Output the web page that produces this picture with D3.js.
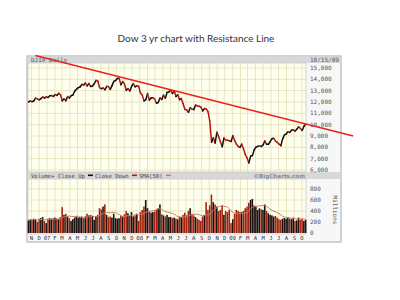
<!DOCTYPE html>
<html>
<head>
<meta charset="utf-8">
<script src="https://cdn.jsdelivr.net/npm/d3@7"></script>
<style>
  body { margin: 0; background: #fff; }
  svg text { font-family: "DejaVu Sans Mono", monospace; }
</style>
</head>
<body>
<div id="chart"></div>
<script>
// Weekly DJIA closes, from the week of 10/20/06 to 10/15/09
const closes = [
  // 2006
  12002, 12090, 12031, 12108, 12342, 12280, 12194, 12307, 12445, 12343, 12463,
  // 2007
  12398, 12556, 12565, 12487, 12653, 12580, 12768, 12647,
  12114, 12276, 12110, 12481, 12354, 12560, 12612, 12961, 13120,
  13264, 13326, 13556, 13507, 13668, 13424, 13639, 13360, 13408,
  13611, 13907, 13851, 13265, 13182, 13239, 13079, 13379, 13358,
  13113, 13442, 13821, 13896, 14066, 14093, 13522, 13807,
  13595, 13043, 13177, 12981, 13372, 13626, 13339, 13451, 13366,
  // 2008
  12800, 12606, 12099, 12207, 12743, 12183, 12348, 12381, 12266,
  11894, 11951, 12361, 12216, 12609, 12325, 12849, 12891,
  13058, 12745, 12986, 12480, 12638, 12209, 12307, 11843, 11346,
  11288, 11100, 11496, 11370, 11326, 11734, 11659, 11628, 11543,
  11220, 11421, 11388, 11143, 10325, 8451, 8852, 8378, 9325,
  8943, 8497, 8046, 8829, 8635, 8629, 8579, 8515,
  // 2009
  9034, 8599, 8281, 8077, 8001, 8280, 7850, 7366, 7063,
  6627, 7224, 7279, 7776, 8018, 8083, 8131, 8076,
  8212, 8575, 8268, 8277, 8500, 8764, 8799, 8539, 8438,
  8280, 8146, 8743, 9093, 9171, 9370, 9321, 9505, 9544,
  9441, 9605, 9820, 9665, 9487, 9865, 10062
];

// Average daily volume per week, millions
const volumes = [
  230, 250, 240, 260, 250, 200, 260, 270, 290, 220, 180,
  260, 270, 260, 270, 280, 260, 250, 290,
  470, 330, 350, 300, 270, 220, 250, 280, 300,
  280, 290, 300, 270, 300, 350, 320, 330, 310,
  240, 300, 330, 450, 430, 480, 520, 330, 290,
  300, 280, 350, 270, 260, 270, 320, 300,
  340, 400, 360, 320, 380, 300, 320, 350, 220,
  380, 420, 480, 600, 450, 400, 370, 380, 390,
  420, 450, 520, 340, 320, 300, 330, 290,
  290, 270, 280, 260, 250, 300, 290, 330, 370,
  320, 400, 450, 350, 320, 290, 260, 240, 220,
  300, 330, 560, 420, 500, 700, 560, 520, 480,
  400, 420, 500, 330, 400, 380, 420, 180,
  250, 350, 420, 400, 380, 380, 400, 450, 480,
  550, 600, 620, 500, 480, 420, 450, 430,
  420, 520, 400, 360, 330, 320, 300, 310, 280,
  250, 240, 260, 270, 260, 290, 260, 250, 280,
  220, 230, 280, 240, 260, 220, 240
];

const priceTicks  = [6000, 7000, 8000, 9000, 10000, 11000, 12000, 13000, 14000, 15000];
const volumeTicks = [0, 200, 400, 600, 800];

// Resistance line: two hand-drawn anchor points (date, price)
const resistance = [
  { date: new Date(2006, 10, 16), value: 16100 },
  { date: new Date(2010, 3, 21),  value: 9000 }
];

const firstWeek = new Date(2006, 9, 20);
const data = closes.map((c, i) => ({
  date: d3.timeDay.offset(firstWeek, i * 7),
  close: c,
  volume: volumes[i],
  up: i === 0 ? true : c >= closes[i - 1]
}));

// 50-day SMA ~ 10-week average
data.forEach((d, i) => {
  const win = data.slice(Math.max(0, i - 9), i + 1);
  d.sma = d3.mean(win, w => w.volume);
});

const W = 400, H = 300;
const frame = { left: 27, right: 341, top: 56, bottom: 242 };
const plot  = { left: 28, right: 306 };
const pricePane  = { top: 63, bottom: 172 };
const volumePane = { top: 179, bottom: 234 };

const svg = d3.select("#chart").append("svg")
  .attr("width", W).attr("height", H);

// title
svg.append("text")
  .attr("x", 196).attr("y", 42)
  .attr("text-anchor", "middle")
  .style("font-family", "Lato, 'Open Sans', sans-serif")
  .style("font-size", "10px")
  .attr("fill", "#333")
  .text("Dow 3 yr chart with Resistance Line");

// outer frame
svg.append("rect")
  .attr("x", frame.left).attr("y", frame.top)
  .attr("width", frame.right - frame.left)
  .attr("height", frame.bottom - frame.top)
  .attr("fill", "#f7f7f7").attr("stroke", "#a8a8a8").attr("stroke-width", 1);

// header bars
svg.append("rect")
  .attr("x", frame.left + 0.5).attr("y", frame.top + 0.5)
  .attr("width", frame.right - frame.left - 1).attr("height", 6.5)
  .attr("fill", "#d8d8d8");
svg.append("rect")
  .attr("x", frame.left + 0.5).attr("y", pricePane.bottom)
  .attr("width", frame.right - frame.left - 1).attr("height", 7)
  .attr("fill", "#d8d8d8");

const x = d3.scaleTime()
  .domain([new Date(2006, 9, 18), new Date(2009, 9, 17)])
  .range([plot.left, plot.right]);

const y = d3.scaleLinear().domain([6000, 15000]).range([170, 68]);
const yv = d3.scaleLinear().domain([0, 800]).range([233, 189]);

const months = d3.timeMonth.range(new Date(2006, 10, 1), new Date(2009, 10, 1));

// pane backgrounds
[pricePane, volumePane].forEach(p => {
  svg.append("rect")
    .attr("x", plot.left).attr("y", p.top)
    .attr("width", plot.right - plot.left).attr("height", p.bottom - p.top)
    .attr("fill", "#fffff0").attr("stroke", "#b8b8b8").attr("stroke-width", 0.6);
});

// grids
const grid = svg.append("g").attr("stroke", "#e2dfb4").attr("stroke-width", 0.8);
[pricePane, volumePane].forEach(p => {
  grid.selectAll(null).data(months).join("line")
    .attr("x1", d => x(d)).attr("x2", d => x(d))
    .attr("y1", p.top).attr("y2", p.bottom);
});
grid.selectAll(null).data(priceTicks).join("line")
  .attr("x1", plot.left).attr("x2", plot.right)
  .attr("y1", d => y(d)).attr("y2", d => y(d));
grid.selectAll(null).data(volumeTicks.slice(1)).join("line")
  .attr("x1", plot.left).attr("x2", plot.right)
  .attr("y1", d => yv(d)).attr("y2", d => yv(d));

// price trace
svg.append("g").selectAll("line")
  .data(data.slice(1))
  .join("line")
  .attr("x1", (d, i) => x(data[i].date))
  .attr("y1", (d, i) => y(data[i].close))
  .attr("x2", d => x(d.date))
  .attr("y2", d => y(d.close))
  .attr("stroke", d => d.up ? "#111" : "#b01a12")
  .attr("stroke-width", 1.5)
  .attr("stroke-linecap", "round");

// volume bars
const bw = x(d3.timeDay.offset(firstWeek, 7)) - x(firstWeek);
svg.append("g").selectAll("rect")
  .data(data)
  .join("rect")
  .attr("x", d => x(d.date) - bw / 2)
  .attr("width", bw - 0.2)
  .attr("y", d => yv(d.volume))
  .attr("height", d => yv(0) - yv(d.volume))
  .attr("fill", d => d.up ? "#1a1010" : "#a2240f");

svg.append("path")
  .datum(data)
  .attr("fill", "none")
  .attr("stroke", "#d07a66")
  .attr("stroke-width", 1)
  .attr("d", d3.line().x(d => x(d.date)).y(d => yv(d.sma)).curve(d3.curveMonotoneX));

// right labels
const lab = svg.append("g").style("font-size", "6px").attr("fill", "#555");
lab.selectAll(null).data(priceTicks).join("text")
  .attr("x", 310).attr("y", d => y(d) + 2)
  .text(d3.format(","));
lab.selectAll(null).data(volumeTicks).join("text")
  .attr("x", 310).attr("y", d => yv(d) + 2)
  .text(d => d);
lab.append("text")
  .attr("transform", "translate(333,210) rotate(90)")
  .attr("text-anchor", "middle")
  .text("Millions");
lab.append("text").attr("x", 310).attr("y", 62).text("10/15/09");
lab.append("text").attr("x", 31).attr("y", 62).text("DJIA Daily");

// volume header legend
const leg = svg.append("g").style("font-size", "5.6px").attr("fill", "#444");
leg.append("text").attr("x", 31).attr("y", 177.5).text("Volume+ Close Up");
leg.append("rect").attr("x", 88).attr("y", 174.5).attr("width", 5).attr("height", 1.6).attr("fill", "#111");
leg.append("text").attr("x", 95).attr("y", 177.5).text("Close Down");
leg.append("rect").attr("x", 132).attr("y", 174.5).attr("width", 5).attr("height", 1.6).attr("fill", "#b01a12");
leg.append("text").attr("x", 139).attr("y", 177.5).text("SMA(50)");
leg.append("rect").attr("x", 166).attr("y", 174.5).attr("width", 5).attr("height", 1.6).attr("fill", "#d07a66");
leg.append("text").attr("x", 305).attr("y", 177.5)
  .attr("text-anchor", "end").attr("fill", "#8a8a8a")
  .style("font-weight", "bold")
  .style("font-family", "'DejaVu Sans', sans-serif")
  .text("\u00a9BigCharts.com");

// month labels
svg.append("g").style("font-size", "5.6px").attr("fill", "#333")
  .selectAll("text").data(months).join("text")
  .attr("x", d => x(d)).attr("y", 239.5)
  .attr("text-anchor", "middle")
  .text(d => d.getMonth() === 0 ? d3.timeFormat("%y")(d) : d3.timeFormat("%b")(d)[0]);

// resistance line
svg.append("line")
  .attr("x1", x(resistance[0].date)).attr("y1", y(resistance[0].value))
  .attr("x2", x(resistance[1].date)).attr("y2", y(resistance[1].value))
  .attr("stroke", "#e8241c")
  .attr("stroke-width", 1.5);
</script>
</body>
</html>
